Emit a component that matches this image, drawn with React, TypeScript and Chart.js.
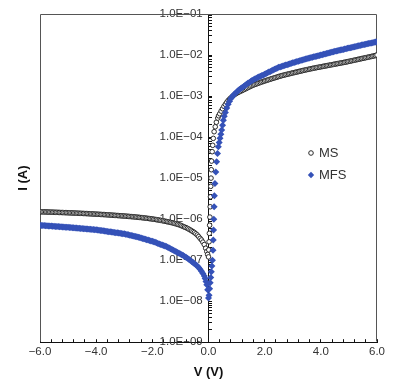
import React, { useEffect, useRef } from 'react';
import { Chart, registerables } from 'chart.js';

Chart.register(...registerables);

// ---------- data ----------
const SERIES_LABELS = ['MS', 'MFS'];

// sweep voltages for the outer parts (shared by both samples)
const V_NEG = [
  -6.00, -5.95, -5.90, -5.85, -5.80, -5.75, -5.70, -5.65, -5.60, -5.55,
  -5.50, -5.45, -5.40, -5.35, -5.30, -5.25, -5.20, -5.15, -5.10, -5.05,
  -5.00, -4.95, -4.90, -4.85, -4.80, -4.75, -4.70, -4.65, -4.60, -4.55,
  -4.50, -4.45, -4.40, -4.35, -4.30, -4.25, -4.20, -4.15, -4.10, -4.05,
  -4.00, -3.95, -3.90, -3.85, -3.80, -3.75, -3.70, -3.65, -3.60, -3.55,
  -3.50, -3.45, -3.40, -3.35, -3.30, -3.25, -3.20, -3.15, -3.10, -3.05,
  -3.00, -2.95, -2.90, -2.85, -2.80, -2.75, -2.70, -2.65, -2.60, -2.55,
  -2.50, -2.45, -2.40, -2.35, -2.30, -2.25, -2.20, -2.15, -2.10, -2.05,
  -2.00, -1.95, -1.90, -1.85, -1.80, -1.75, -1.70, -1.65, -1.60, -1.55,
  -1.50, -1.45, -1.40, -1.35, -1.30, -1.25, -1.20, -1.15, -1.10, -1.05,
  -1.00,
];

const V_POS = [
  1.00, 1.05, 1.10, 1.15, 1.20, 1.25, 1.30, 1.35, 1.40, 1.45,
  1.50, 1.55, 1.60, 1.65, 1.70, 1.75, 1.80, 1.85, 1.90, 1.95,
  2.00, 2.05, 2.10, 2.15, 2.20, 2.25, 2.30, 2.35, 2.40, 2.45,
  2.50, 2.55, 2.60, 2.65, 2.70, 2.75, 2.80, 2.85, 2.90, 2.95,
  3.00, 3.05, 3.10, 3.15, 3.20, 3.25, 3.30, 3.35, 3.40, 3.45,
  3.50, 3.55, 3.60, 3.65, 3.70, 3.75, 3.80, 3.85, 3.90, 3.95,
  4.00, 4.05, 4.10, 4.15, 4.20, 4.25, 4.30, 4.35, 4.40, 4.45,
  4.50, 4.55, 4.60, 4.65, 4.70, 4.75, 4.80, 4.85, 4.90, 4.95,
  5.00, 5.05, 5.10, 5.15, 5.20, 5.25, 5.30, 5.35, 5.40, 5.45,
  5.50, 5.55, 5.60, 5.65, 5.70, 5.75, 5.80, 5.85, 5.90, 5.95,
  6.00,
];

// MS sample (open circles)
const I_MS_NEG = [
  1.510e-6, 1.507e-6, 1.503e-6, 1.500e-6, 1.496e-6, 1.492e-6, 1.488e-6, 1.484e-6, 1.480e-6, 1.476e-6,
  1.472e-6, 1.468e-6, 1.464e-6, 1.460e-6, 1.455e-6, 1.450e-6, 1.446e-6, 1.442e-6, 1.437e-6, 1.433e-6,
  1.428e-6, 1.424e-6, 1.419e-6, 1.414e-6, 1.410e-6, 1.405e-6, 1.400e-6, 1.395e-6, 1.390e-6, 1.385e-6,
  1.380e-6, 1.375e-6, 1.370e-6, 1.364e-6, 1.358e-6, 1.352e-6, 1.346e-6, 1.340e-6, 1.334e-6, 1.328e-6,
  1.322e-6, 1.316e-6, 1.310e-6, 1.304e-6, 1.298e-6, 1.292e-6, 1.286e-6, 1.280e-6, 1.273e-6, 1.266e-6,
  1.259e-6, 1.252e-6, 1.245e-6, 1.238e-6, 1.231e-6, 1.224e-6, 1.217e-6, 1.210e-6, 1.203e-6, 1.196e-6,
  1.189e-6, 1.182e-6, 1.175e-6, 1.167e-6, 1.159e-6, 1.151e-6, 1.143e-6, 1.135e-6, 1.127e-6, 1.118e-6,
  1.109e-6, 1.100e-6, 1.091e-6, 1.081e-6, 1.071e-6, 1.061e-6, 1.051e-6, 1.040e-6, 1.029e-6, 1.018e-6,
  1.007e-6, 9.95e-7, 9.83e-7, 9.71e-7, 9.58e-7, 9.45e-7, 9.32e-7, 9.18e-7, 9.04e-7, 8.89e-7,
  8.75e-7, 8.61e-7, 8.47e-7, 8.32e-7, 8.17e-7, 8.00e-7, 7.83e-7, 7.65e-7, 7.47e-7, 7.29e-7,
  7.10e-7,
];
const V_MS_MID = [
  -0.95, -0.90, -0.85, -0.80, -0.75, -0.70, -0.65, -0.60, -0.55, -0.50,
  -0.45, -0.40, -0.35, -0.30, -0.25, -0.20, -0.15, -0.10, -0.06, -0.03, 0.00,
  0.01, 0.02, 0.03, 0.04, 0.05, 0.06, 0.07, 0.08, 0.09, 0.10, 0.11,
  0.13, 0.15, 0.17, 0.20, 0.24, 0.28, 0.33, 0.36, 0.40, 0.45, 0.50,
  0.55, 0.60, 0.65, 0.70, 0.75, 0.80, 0.85, 0.90, 0.95,
];
const I_MS_MID = [
  6.85e-7, 6.6e-7, 6.4e-7, 6.2e-7, 5.95e-7, 5.7e-7, 5.45e-7, 5.2e-7, 4.95e-7, 4.7e-7,
  4.4e-7, 4.1e-7, 3.75e-7, 3.4e-7, 3.1e-7, 2.75e-7, 2.4e-7, 1.95e-7, 1.62e-7, 1.38e-7, 1.2e-7,
  1.78e-7, 2.8e-7, 4.5e-7, 7.1e-7, 1.12e-6, 2.0e-6, 3.5e-6, 6.3e-6, 1.0e-5, 1.6e-5, 2.6e-5,
  4.4e-5, 6.3e-5, 9.3e-5, 1.35e-4, 1.78e-4, 2.3e-4, 2.9e-4, 3.3e-4, 3.7e-4, 4.3e-4, 4.9e-4,
  5.6e-4, 6.3e-4, 7.05e-4, 7.8e-4, 8.45e-4, 9.1e-4, 9.8e-4, 1.05e-3, 1.11e-3,
];
const I_MS_POS = [
  1.17e-3, 1.22e-3, 1.27e-3, 1.32e-3, 1.37e-3, 1.425e-3, 1.48e-3, 1.54e-3, 1.60e-3, 1.665e-3,
  1.73e-3, 1.795e-3, 1.86e-3, 1.915e-3, 1.97e-3, 2.03e-3, 2.09e-3, 2.15e-3, 2.21e-3, 2.27e-3,
  2.33e-3, 2.39e-3, 2.45e-3, 2.515e-3, 2.58e-3, 2.645e-3, 2.71e-3, 2.775e-3, 2.84e-3, 2.915e-3,
  2.99e-3, 3.06e-3, 3.13e-3, 3.195e-3, 3.26e-3, 3.325e-3, 3.39e-3, 3.455e-3, 3.52e-3, 3.59e-3,
  3.66e-3, 3.73e-3, 3.80e-3, 3.87e-3, 3.94e-3, 4.015e-3, 4.09e-3, 4.17e-3, 4.25e-3, 4.325e-3,
  4.40e-3, 4.475e-3, 4.55e-3, 4.63e-3, 4.71e-3, 4.785e-3, 4.86e-3, 4.935e-3, 5.01e-3, 5.085e-3,
  5.16e-3, 5.24e-3, 5.32e-3, 5.40e-3, 5.48e-3, 5.565e-3, 5.65e-3, 5.735e-3, 5.82e-3, 5.91e-3,
  6.00e-3, 6.09e-3, 6.18e-3, 6.275e-3, 6.37e-3, 6.465e-3, 6.56e-3, 6.66e-3, 6.76e-3, 6.88e-3,
  7.00e-3, 7.12e-3, 7.24e-3, 7.37e-3, 7.50e-3, 7.63e-3, 7.76e-3, 7.90e-3, 8.04e-3, 8.18e-3,
  8.32e-3, 8.465e-3, 8.61e-3, 8.76e-3, 8.91e-3, 9.07e-3, 9.23e-3, 9.39e-3, 9.55e-3, 9.77e-3,
  1.00e-2,
];

// MFS sample (filled diamonds)
const I_MFS_NEG = [
  7.08e-7, 7.04e-7, 7.00e-7, 6.96e-7, 6.92e-7, 6.88e-7, 6.84e-7, 6.80e-7, 6.76e-7, 6.72e-7,
  6.68e-7, 6.645e-7, 6.61e-7, 6.57e-7, 6.53e-7, 6.495e-7, 6.46e-7, 6.42e-7, 6.38e-7, 6.345e-7,
  6.31e-7, 6.265e-7, 6.22e-7, 6.18e-7, 6.14e-7, 6.095e-7, 6.05e-7, 6.01e-7, 5.97e-7, 5.93e-7,
  5.89e-7, 5.85e-7, 5.81e-7, 5.77e-7, 5.73e-7, 5.69e-7, 5.65e-7, 5.61e-7, 5.57e-7, 5.535e-7,
  5.50e-7, 5.435e-7, 5.37e-7, 5.31e-7, 5.25e-7, 5.19e-7, 5.13e-7, 5.07e-7, 5.01e-7, 4.955e-7,
  4.90e-7, 4.845e-7, 4.79e-7, 4.735e-7, 4.68e-7, 4.625e-7, 4.57e-7, 4.52e-7, 4.47e-7, 4.42e-7,
  4.37e-7, 4.29e-7, 4.21e-7, 4.135e-7, 4.06e-7, 3.985e-7, 3.91e-7, 3.84e-7, 3.77e-7, 3.70e-7,
  3.63e-7, 3.55e-7, 3.47e-7, 3.39e-7, 3.31e-7, 3.235e-7, 3.16e-7, 3.09e-7, 3.02e-7, 2.95e-7,
  2.88e-7, 2.80e-7, 2.72e-7, 2.64e-7, 2.56e-7, 2.485e-7, 2.41e-7, 2.34e-7, 2.27e-7, 2.205e-7,
  2.14e-7, 2.055e-7, 1.97e-7, 1.89e-7, 1.81e-7, 1.74e-7, 1.67e-7, 1.60e-7, 1.53e-7, 1.47e-7,
  1.41e-7,
];
const V_MFS_MID = [
  -0.95, -0.90, -0.85, -0.80, -0.75, -0.70, -0.65, -0.60, -0.55, -0.50,
  -0.45, -0.40, -0.35, -0.30, -0.25, -0.20, -0.15, -0.12, -0.09, -0.06, -0.03, 0.00,
  0.02, 0.04, 0.06, 0.08, 0.10, 0.12, 0.14, 0.16, 0.17, 0.18, 0.19, 0.20, 0.21, 0.23,
  0.26, 0.29, 0.32, 0.35, 0.38, 0.41, 0.44, 0.47, 0.50, 0.53, 0.56, 0.60,
  0.65, 0.70, 0.75, 0.80, 0.85, 0.90, 0.95,
];
const I_MFS_MID = [
  1.35e-7, 1.29e-7, 1.23e-7, 1.17e-7, 1.11e-7, 1.05e-7, 9.9e-8, 9.3e-8, 8.75e-8, 8.2e-8,
  7.7e-8, 7.2e-8, 6.6e-8, 6.0e-8, 5.35e-8, 4.7e-8, 4.1e-8, 3.55e-8, 3.0e-8, 2.5e-8, 1.9e-8, 1.2e-8,
  1.4e-8, 2.0e-8, 2.8e-8, 3.8e-8, 5.2e-8, 7.2e-8, 1.0e-7, 1.74e-7, 3.1e-7, 5.4e-7, 1.0e-6, 2.0e-6, 3.7e-6, 7.4e-6,
  1.41e-5, 2.5e-5, 4.0e-5, 5.8e-5, 7.4e-5, 9.3e-5, 1.17e-4, 1.48e-4, 1.95e-4, 2.57e-4, 3.2e-4, 4.0e-4,
  5.1e-4, 6.3e-4, 7.5e-4, 8.7e-4, 9.7e-4, 1.07e-3, 1.16e-3,
];
const I_MFS_POS = [
  1.26e-3, 1.35e-3, 1.44e-3, 1.53e-3, 1.62e-3, 1.72e-3, 1.82e-3, 1.93e-3, 2.04e-3, 2.15e-3,
  2.26e-3, 2.385e-3, 2.51e-3, 2.615e-3, 2.72e-3, 2.83e-3, 2.94e-3, 3.05e-3, 3.16e-3, 3.275e-3,
  3.39e-3, 3.535e-3, 3.68e-3, 3.83e-3, 3.98e-3, 4.145e-3, 4.31e-3, 4.48e-3, 4.65e-3, 4.83e-3,
  5.01e-3, 5.14e-3, 5.27e-3, 5.41e-3, 5.55e-3, 5.69e-3, 5.83e-3, 5.985e-3, 6.14e-3, 6.30e-3,
  6.46e-3, 6.61e-3, 6.76e-3, 6.92e-3, 7.08e-3, 7.245e-3, 7.41e-3, 7.585e-3, 7.76e-3, 7.945e-3,
  8.13e-3, 8.30e-3, 8.47e-3, 8.65e-3, 8.83e-3, 9.015e-3, 9.20e-3, 9.395e-3, 9.59e-3, 9.795e-3,
  1.00e-2, 1.02e-2, 1.04e-2, 1.065e-2, 1.09e-2, 1.11e-2, 1.13e-2, 1.155e-2, 1.18e-2, 1.205e-2,
  1.23e-2, 1.255e-2, 1.28e-2, 1.30e-2, 1.32e-2, 1.345e-2, 1.37e-2, 1.40e-2, 1.43e-2, 1.455e-2,
  1.48e-2, 1.505e-2, 1.53e-2, 1.56e-2, 1.59e-2, 1.62e-2, 1.65e-2, 1.68e-2, 1.71e-2, 1.745e-2,
  1.78e-2, 1.81e-2, 1.84e-2, 1.875e-2, 1.91e-2, 1.94e-2, 1.97e-2, 2.005e-2, 2.04e-2, 2.075e-2,
  2.11e-2,
];

// axis ranges and tick settings
const X_MIN = -6;
const X_MAX = 6;
const X_TICK_STEP = 0.4;
const X_LABEL_STEP = 2;
const Y_MIN_EXP = -9;
const Y_MAX_EXP = -1;

const FONT = "'Liberation Sans', Arial, Helvetica, sans-serif";
const MS_COLOR = '#2a2a2a';
const MFS_COLOR = '#3552b8';

const minus = (s: string) => s.replace('-', '\u2212');

const fmtExp = (v: number) => {
  const e = Math.round(Math.log10(v));
  return '1.0E' + (e < 0 ? '\u2212' : '+') + String(Math.abs(e)).padStart(2, '0') + '\u2002';
};

const toPoints = (vs: number[], is: number[]) => vs.map((v, i) => ({ x: v, y: is[i] }));

const framePlugin = {
  id: 'frame',
  beforeDatasetsDraw(chart: any) {
    const { ctx, chartArea } = chart;
    const l = Math.round(chartArea.left) + 0.5;
    const t = Math.round(chartArea.top) + 0.5;
    const r = Math.round(chartArea.right) - 0.5;
    const b = Math.round(chartArea.bottom) - 0.5;
    ctx.save();
    ctx.strokeStyle = '#555';
    ctx.lineWidth = 1;
    ctx.beginPath();
    ctx.moveTo(l, b);
    ctx.lineTo(l, t);
    ctx.lineTo(r, t);
    ctx.lineTo(r, b);
    ctx.stroke();
    ctx.restore();
  },
};

const legendPlugin = {
  id: 'innerLegend',
  afterDraw(chart: any) {
    const { ctx } = chart;
    const x0 = 311;
    const y0 = 153;
    const gap = 22;
    ctx.save();
    chart.data.datasets.forEach((ds: any, i: number) => {
      const y = y0 + i * gap;
      ctx.beginPath();
      if (ds.pointStyle === 'rectRot') {
        const r = 3.2;
        ctx.moveTo(x0, y - r);
        ctx.lineTo(x0 + r, y);
        ctx.lineTo(x0, y + r);
        ctx.lineTo(x0 - r, y);
        ctx.closePath();
        ctx.fillStyle = ds.backgroundColor;
        ctx.fill();
      } else {
        ctx.arc(x0, y, 2.3, 0, Math.PI * 2);
        ctx.fillStyle = ds.backgroundColor;
        ctx.fill();
        ctx.lineWidth = 1;
        ctx.strokeStyle = ds.borderColor;
        ctx.stroke();
      }
      ctx.fillStyle = '#333';
      ctx.font = `13px ${FONT}`;
      ctx.textBaseline = 'middle';
      ctx.textAlign = 'left';
      ctx.fillText(ds.label, x0 + 8, y + 0.5);
    });
    ctx.restore();
  },
};

export default function App() {
  const canvasRef = useRef<HTMLCanvasElement | null>(null);

  useEffect(() => {
    if (!canvasRef.current) return;
    const msData = [
      ...toPoints(V_NEG, I_MS_NEG),
      ...toPoints(V_MS_MID, I_MS_MID),
      ...toPoints(V_POS, I_MS_POS),
    ];
    const mfsData = [
      ...toPoints(V_NEG, I_MFS_NEG),
      ...toPoints(V_MFS_MID, I_MFS_MID),
      ...toPoints(V_POS, I_MFS_POS),
    ];

    const chart = new Chart(canvasRef.current, {
      type: 'scatter',
      data: {
        datasets: [
          {
            label: SERIES_LABELS[0],
            data: msData,
            pointStyle: 'circle',
            pointRadius: 2.3,
            pointBorderWidth: 1,
            borderColor: MS_COLOR,
            backgroundColor: '#ffffff',
            showLine: false,
            order: 2,
            xAxisID: 'x',
            yAxisID: 'y',
          } as any,
          {
            label: SERIES_LABELS[1],
            data: mfsData,
            pointStyle: 'rectRot',
            pointRadius: 3.5,
            pointBorderWidth: 0,
            borderColor: MFS_COLOR,
            backgroundColor: MFS_COLOR,
            showLine: false,
            order: 1,
            xAxisID: 'x',
            yAxisID: 'y',
          } as any,
        ],
      },
      options: {
        animation: false,
        responsive: true,
        maintainAspectRatio: false,
        events: [],
        layout: { padding: { left: 17, right: 23, top: 14, bottom: 0 } },
        plugins: {
          legend: { display: false },
          tooltip: { enabled: false },
        },
        scales: {
          x: {
            type: 'linear',
            position: 'bottom',
            min: X_MIN,
            max: X_MAX,
            border: { display: true, color: '#111', width: 1 },
            grid: { drawOnChartArea: false, drawTicks: true, tickLength: -3, tickColor: '#111' },
            ticks: {
              stepSize: X_TICK_STEP,
              autoSkip: false,
              maxRotation: 0,
              padding: 6,
              color: '#333',
              font: { family: FONT, size: 11.5 },
              callback: (value: any) => {
                const v = Number(value);
                const q = v / X_LABEL_STEP;
                return Math.abs(q - Math.round(q)) < 1e-6 ? minus(v.toFixed(1)) : '';
              },
            },
            title: {
              display: true,
              text: 'V (V)',
              color: '#111',
              font: { family: FONT, size: 13, weight: 'bold', lineHeight: 1 },
              padding: { top: 1, bottom: 8 },
            },
          },
          y: {
            type: 'logarithmic',
            position: { x: 0 } as any,
            min: Math.pow(10, Y_MIN_EXP),
            max: Math.pow(10, Y_MAX_EXP),
            border: { display: true, color: '#111', width: 1 },
            grid: { drawOnChartArea: false, drawTicks: true, tickLength: -4, tickColor: '#111' },
            afterBuildTicks: (scale: any) => {
              const t: any[] = [];
              for (let e = Y_MIN_EXP; e <= Y_MAX_EXP; e++) {
                const kMax = e === Y_MAX_EXP ? 1 : 9;
                for (let k = 1; k <= kMax; k++) {
                  t.push({ value: k * Math.pow(10, e), major: k === 1 });
                }
              }
              scale.ticks = t;
            },
            ticks: {
              autoSkip: false,
              color: '#333',
              padding: 4,
              font: { family: FONT, size: 11.5 },
              callback: (value: any) => {
                const lg = Math.log10(Number(value));
                return Math.abs(lg - Math.round(lg)) < 1e-6 ? fmtExp(Number(value)) : '';
              },
            },
          },
          yTitle: {
            type: 'linear',
            position: 'left',
            display: true,
            grid: { display: false, drawTicks: false },
            border: { display: false },
            ticks: { display: false },
            title: {
              display: true,
              text: 'I (A)',
              color: '#111',
              font: { family: FONT, size: 13, weight: 'bold', lineHeight: 1 },
              padding: { top: 0, bottom: 10 },
            },
          },
        } as any,
      },
      plugins: [framePlugin, legendPlugin],
    });

    return () => chart.destroy();
  }, []);

  return (
    <div style={{ position: 'absolute', left: 0, top: 0, width: 400, height: 387, background: '#fff' }}>
      <canvas ref={canvasRef} />
    </div>
  );
}
